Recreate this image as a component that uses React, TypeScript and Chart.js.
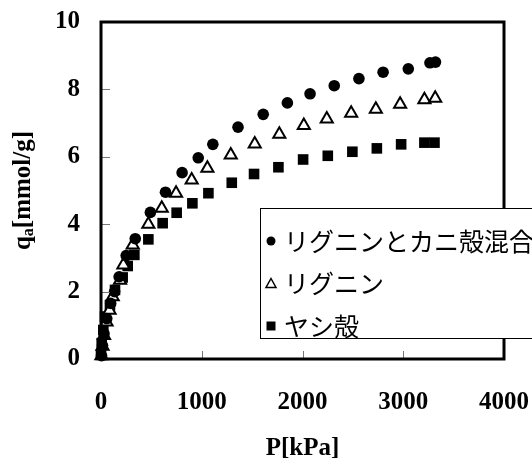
import React, { useEffect, useRef } from "react";
import { Chart, registerables } from "chart.js";

Chart.register(...registerables);

// ---- data ----
const mixLabel = "リグニンとカニ殻混合";
const mixP = [5, 15, 30, 57, 96, 135, 180, 250, 340, 490, 640, 805, 965, 1110, 1360, 1610, 1850, 2075, 2315, 2560, 2800, 3050, 3265, 3320];
const mixQ = [0.1, 0.4, 0.75, 1.2, 1.65, 2.0, 2.44, 3.07, 3.57, 4.35, 4.95, 5.53, 5.97, 6.37, 6.88, 7.26, 7.6, 7.87, 8.11, 8.32, 8.51, 8.61, 8.79, 8.81];

const ligninLabel = "リグニン";
const ligninP = [5, 15, 30, 55, 85, 116, 189, 222, 315, 470, 603, 745, 900, 1056, 1288, 1526, 1770, 2013, 2241, 2483, 2728, 2969, 3210, 3317];
const ligninQ = [0.1, 0.38, 0.7, 1.1, 1.45, 1.85, 2.34, 2.79, 3.38, 4.0, 4.47, 4.92, 5.31, 5.66, 6.05, 6.38, 6.67, 6.93, 7.12, 7.29, 7.41, 7.56, 7.69, 7.74];

const coconutLabel = "ヤシ殻";
const coconutP = [0, 7, 23, 40, 89, 139, 215, 265, 331, 470, 612, 751, 907, 1066, 1298, 1519, 1761, 2006, 2251, 2495, 2738, 2979, 3210, 3310];
const coconutQ = [0.12, 0.47, 0.86, 1.26, 1.6, 2.05, 2.42, 2.76, 3.09, 3.55, 4.03, 4.34, 4.62, 4.92, 5.23, 5.49, 5.69, 5.92, 6.03, 6.15, 6.25, 6.37, 6.42, 6.42];

const xTitle = "P[kPa]";
const yTitleMain = "q";
const yTitleSub = "a";
const yTitleRest = "[mmol/g]";
const xMin = 0, xMax = 4000, xStep = 1000;
const yMin = 0, yMax = 10, yStep = 2;

const toPoints = (xs: number[], ys: number[]) => xs.map((x, i) => ({ x, y: ys[i] }));

const SERIF = '"Liberation Serif", "Times New Roman", serif';
const CJK = '"Noto Sans CJK JP", sans-serif';

const framePlugin = {
  id: "frameTicks",
  afterDatasetsDraw(chart: any) {
    const { ctx, chartArea: a, scales } = chart;
    ctx.save();
    // inner tick marks
    ctx.strokeStyle = "#777";
    ctx.lineWidth = 1;
    ctx.beginPath();
    for (let v = xMin + xStep; v < xMax; v += xStep) {
      const px = Math.round(scales.x.getPixelForValue(v)) + 0.5;
      ctx.moveTo(px, a.bottom);
      ctx.lineTo(px, a.bottom - 8);
    }
    for (let v = yMin + yStep; v < yMax; v += yStep) {
      const py = Math.round(scales.y.getPixelForValue(v)) + 0.5;
      ctx.moveTo(a.left, py);
      ctx.lineTo(a.left + 9, py);
    }
    ctx.stroke();
    // frame
    ctx.strokeStyle = "#000";
    ctx.lineWidth = 3;
    ctx.strokeRect(a.left, a.top, a.right - a.left, a.bottom - a.top);
    ctx.restore();
  },
  afterDraw(chart: any) {
    const { ctx, chartArea: a } = chart;
    ctx.save();
    // y axis title with subscript
    const big = `bold 25px ${SERIF}`;
    const small = `bold 16px ${SERIF}`;
    ctx.font = big;
    const w1 = ctx.measureText(yTitleMain).width;
    const w3 = ctx.measureText(yTitleRest).width;
    ctx.font = small;
    const w2 = ctx.measureText(yTitleSub).width;
    const total = w1 + w2 + w3;
    ctx.translate(30, (a.top + a.bottom) / 2);
    ctx.rotate(-Math.PI / 2);
    ctx.fillStyle = "#000";
    ctx.textBaseline = "alphabetic";
    let x0 = -total / 2;
    ctx.font = big;
    ctx.fillText(yTitleMain, x0, 0);
    x0 += w1;
    ctx.font = small;
    ctx.fillText(yTitleSub, x0, 3);
    x0 += w2;
    ctx.font = big;
    ctx.fillText(yTitleRest, x0, 0);
    ctx.restore();

    // legend box
    ctx.save();
    ctx.fillStyle = "#fff";
    ctx.strokeStyle = "#000";
    ctx.lineWidth = 1;
    ctx.fillRect(260.5, 208.5, 300, 130);
    ctx.strokeRect(260.5, 208.5, 300, 130);
    const rows = chart.data.datasets;
    rows.forEach((ds: any, i: number) => {
      const cy = 241 + i * 42.5;
      const cx = 271;
      ctx.fillStyle = "#000";
      ctx.strokeStyle = "#000";
      ctx.beginPath();
      if (ds.pointStyle === "circle") {
        ctx.arc(cx, cy, 4.5, 0, Math.PI * 2);
        ctx.fill();
      } else if (ds.pointStyle === "triangle") {
        ctx.lineWidth = 1.5;
        ctx.moveTo(cx, cy - 5);
        ctx.lineTo(cx + 5, cy + 4);
        ctx.lineTo(cx - 5, cy + 4);
        ctx.closePath();
        ctx.stroke();
      } else {
        ctx.fillRect(cx - 4.5, cy - 4.5, 9, 9);
      }
      ctx.font = `25px ${CJK}`;
      ctx.textBaseline = "middle";
      ctx.textAlign = "left";
      ctx.fillText(ds.label, 284, cy);
    });
    ctx.restore();
  },
};

export default function App() {
  const ref = useRef<HTMLCanvasElement | null>(null);
  useEffect(() => {
    document.body.style.margin = "0";
    document.body.style.overflow = "hidden";
    const canvas = ref.current!;
    const chart = new Chart(canvas, {
      type: "scatter",
      data: {
        datasets: [
          {
            label: mixLabel,
            data: toPoints(mixP, mixQ),
            pointStyle: "circle",
            pointRadius: 5.8,
            backgroundColor: "#000",
            borderColor: "#000",
            borderWidth: 0,
            clip: false,
          },
          {
            label: ligninLabel,
            data: toPoints(ligninP, ligninQ),
            pointStyle: "triangle",
            pointRadius: 7,
            backgroundColor: "#fff",
            borderColor: "#000",
            borderWidth: 2,
            clip: false,
          },
          {
            label: coconutLabel,
            data: toPoints(coconutP, coconutQ),
            pointStyle: "rect",
            pointRadius: 7.5,
            backgroundColor: "#000",
            borderColor: "#000",
            borderWidth: 0,
            clip: false,
          },
        ] as any,
      },
      options: {
        animation: false,
        responsive: false,
        maintainAspectRatio: false,
        layout: { padding: { left: 0, top: 22, right: 28, bottom: 0 } },
        plugins: { legend: { display: false }, tooltip: { enabled: false } },
        scales: {
          x: {
            type: "linear",
            min: xMin,
            max: xMax,
            ticks: {
              stepSize: xStep,
              color: "#000",
              padding: 29,
              maxRotation: 0,
              font: { family: SERIF, size: 25, weight: "bold" },
              callback: (v: any) => String(v),
            },
            grid: { display: false, drawTicks: false },
            border: { display: false },
            title: {
              display: true,
              text: xTitle,
              color: "#000",
              padding: { top: 0, bottom: 0 },
              font: { family: SERIF, size: 25, weight: "bold", lineHeight: 1 },
            },
            afterFit(s: any) {
              s.height = 102;
              s.paddingLeft = 0;
              s.paddingRight = 0;
            },
          },
          y: {
            type: "linear",
            min: yMin,
            max: yMax,
            ticks: {
              stepSize: yStep,
              color: "#000",
              padding: 21,
              font: { family: SERIF, size: 25, weight: "bold" },
              callback: (v: any) => String(v),
            },
            grid: { display: false, drawTicks: false },
            border: { display: false },
            afterFit(s: any) {
              s.width = 101;
              s.paddingTop = 0;
              s.paddingBottom = 0;
            },
          },
        } as any,
      },
      plugins: [framePlugin],
    });
    return () => chart.destroy();
  }, []);
  return <canvas ref={ref} width={532} height={461} style={{ display: "block" }} />;
}
